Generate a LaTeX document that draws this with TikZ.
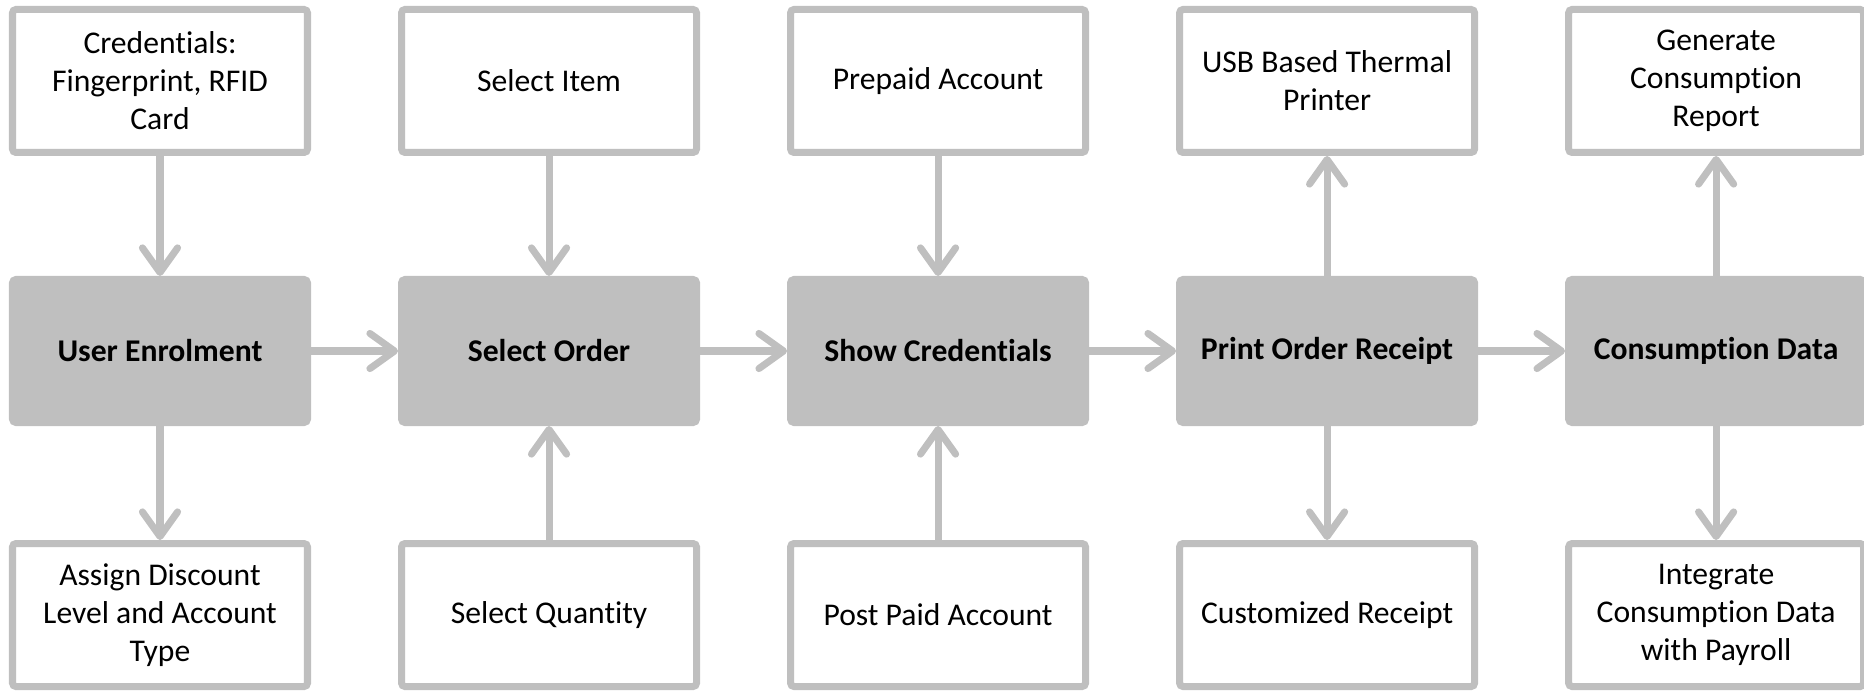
\documentclass[tikz,border=0pt]{standalone}
\usepackage{fontspec}
\setmainfont{Carlito}[RawFeature={-liga;-clig;-calt;-dlig}]
\usepackage{tikz}
\usetikzlibrary{positioning, arrows.meta}
\definecolor{boxgray}{HTML}{BFBFBF}

\begin{document}
\begin{tikzpicture}[
    stage/.style={draw=boxgray, fill=boxgray, line width=2pt, rounded corners=1pt, minimum width=2.95cm, minimum height=1.43cm, font=\fontsize{9}{10.8}\selectfont\bfseries, align=center},
    detail/.style={draw=boxgray, fill=white, line width=2pt, rounded corners=1pt, minimum width=2.95cm, minimum height=1.43cm, font=\fontsize{9}{10.8}\selectfont, align=center},
    flow/.style={-{Straight Barb[round, length=7pt, width=10pt]}, draw=boxgray, line width=2pt, line cap=round},
    node distance=0.87cm,
]
\useasboundingbox (0,0) rectangle (18.64,6.92);

% Main stages
\node[stage] (enrol) at (1.60,3.41) {User Enrolment};
\node[stage, right=of enrol] (order) {Select Order};
\node[stage, right=of order] (showcred) {Show Credentials};
\node[stage, right=of showcred] (receipt) {Print Order Receipt};
\node[stage, right=of receipt] (consume) {Consumption Data};

% Details above
\node[detail, above=1.2cm of enrol] (cred) {Credentials:\\Fingerprint, RFID\\Card};
\node[detail, above=1.2cm of order] (item) {Select Item};
\node[detail, above=1.2cm of showcred] (prepaid) {Prepaid Account};
\node[detail, above=1.2cm of receipt] (printer) {USB Based Thermal\\Printer};
\node[detail, above=1.2cm of consume] (report) {Generate\\Consumption\\Report};

% Details below
\node[detail, below=1.14cm of enrol] (discount) {Assign Discount\\Level and Account\\Type};
\node[detail, below=1.14cm of order] (qty) {Select Quantity};
\node[detail, below=1.14cm of showcred] (postpaid) {Post Paid Account};
\node[detail, below=1.14cm of receipt] (custom) {Customized Receipt};
\node[detail, below=1.14cm of consume] (payroll) {Integrate\\Consumption Data\\with Payroll};

% Main flow
\draw[flow] (enrol) -- (order);
\draw[flow] (order) -- (showcred);
\draw[flow] (showcred) -- (receipt);
\draw[flow] (receipt) -- (consume);

% Inputs and outputs
\draw[flow] (cred) -- (enrol);
\draw[flow] (enrol) -- (discount);
\draw[flow] (item) -- (order);
\draw[flow] (qty) -- (order);
\draw[flow] (prepaid) -- (showcred);
\draw[flow] (postpaid) -- (showcred);
\draw[flow] (receipt) -- (printer);
\draw[flow] (receipt) -- (custom);
\draw[flow] (consume) -- (report);
\draw[flow] (consume) -- (payroll);

\end{tikzpicture}
\end{document}
